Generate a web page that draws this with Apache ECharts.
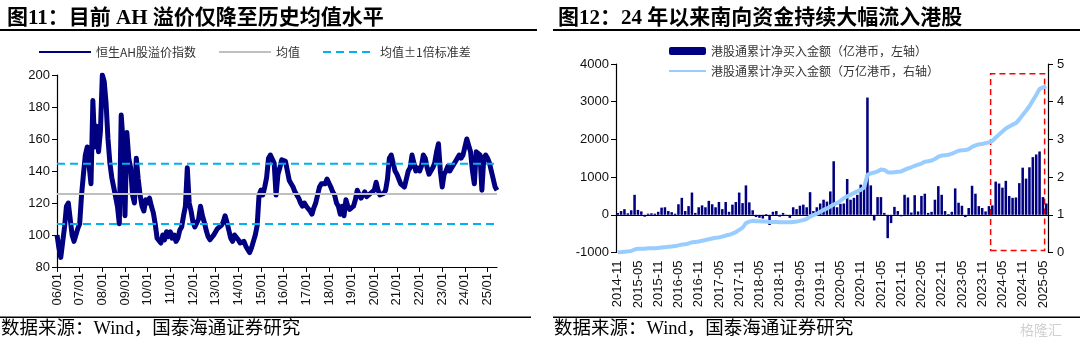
<!DOCTYPE html>
<html><head><meta charset="utf-8">
<script src="https://cdn.jsdelivr.net/npm/echarts@6/dist/echarts.min.js"></script>
<style>html,body{margin:0;padding:0;background:#fff}#c{width:1080px;height:345px}</style>
</head><body><div id="c"></div>
<script>
// ---------- Figure 11: AH premium index (monthly, 2006-01 .. 2025-06) ----------
const ahStart = [2006, 1];
const ahIndex = [
 100, 92, 86, 87, 105, 118, 120, 110, 100, 96, 100, 104,
 107, 125, 138, 150, 155, 156, 132, 184, 155, 168, 152, 165,
 200, 196, 182, 160, 145, 136, 130, 124, 118, 107, 175, 158,
 112, 164, 148, 142, 125, 120, 148, 135, 125, 118, 115, 122,
 120, 123, 118, 114, 107, 98, 97, 95, 100, 97, 102, 99,
 102, 98, 100, 96, 98, 103, 105, 112, 118, 142, 120, 115,
 108, 105, 104, 110, 118, 112, 108, 103, 99, 97, 96, 100,
 100, 104, 103, 106, 108, 112, 108, 103, 98, 96, 100, 99,
 97, 95, 94, 96, 93, 91, 89, 92, 96, 100, 106, 125,
 128, 125, 130, 136, 148, 150, 150, 145, 125, 138, 142, 147,
 147, 146, 140, 134, 132, 130, 127, 125, 123, 120, 118, 120,
 118, 118, 115, 113, 117, 120, 125, 130, 132, 133, 132, 135,
 136, 130, 127, 125, 120, 118, 113, 118, 112, 122, 118, 116,
 117, 118, 122, 128, 125, 123, 125, 127, 124, 125, 126, 126,
 128, 133, 128, 125, 124, 126, 128, 135, 148, 150, 145, 140,
 138, 135, 132, 133, 130, 135, 140, 142, 150, 145, 140, 142,
 140, 143, 150, 148, 142, 138, 140, 142, 145, 152, 157, 140,
 130, 138, 140, 143, 140, 142, 143, 146, 148, 150, 148, 150,
 155, 160, 156, 152, 140, 132, 152, 153, 150, 128, 148, 150,
 148, 145, 140, 135, 130, 128
];
const ahMean = 125.7;
const ahStd = 18.8;
const ahYTicks = [80, 200, 20];

// ---------- Figure 12: Southbound flows (monthly, 2014-11 .. 2025-06) ----------
const flowStart = [2014, 11];
const flowMonthly = [ // 亿港币
 50, 100, 150, 40, 120, 530, 130, 90, -50, 30, 40, 30,
 80, 190, 200, 100, 70, 30, 280, 450, 100, 230, 590, 50,
 200, 250, 200, 370, 280, 200, 340, 150, 340, 80, 270, 340,
 590, 310, 780, 330, 120, -60, -80, -100, 20, -270, 80, 100,
 -50, 50, -30, -80, 200, 150, 240, 270, 200, 600, 100, 200,
 300, 400, 350, 620, 1420, 200, 290, 300, 950, 400, 450, 530,
 800, 780, 3110, 780, -150, 470, 470, 50, -620, -220, 210, 100,
 -40, 530, 460, 60, 520, 90, 500, 560, 50, 80, 400, 760,
 530, 100, 20, 80, 700, 320, 240, -60, 180, 770, 560, 230,
 180, 90, 230, 250, 880, 830, 720, 900, 500, 450, 460, 840,
 1250, 960, 1260, 1530, 1600, 1680, 470, 300
];
const flowCumulative = [ // 万亿港币
 0.00, 0.01, 0.02, 0.03, 0.04, 0.08, 0.10, 0.10, 0.10, 0.11, 0.11, 0.11,
 0.12, 0.13, 0.14, 0.15, 0.16, 0.17, 0.19, 0.21, 0.22, 0.24, 0.27, 0.28,
 0.29, 0.31, 0.33, 0.35, 0.37, 0.39, 0.40, 0.42, 0.45, 0.47, 0.50, 0.54,
 0.60, 0.66, 0.78, 0.82, 0.84, 0.83, 0.83, 0.82, 0.82, 0.81, 0.81, 0.81,
 0.80, 0.80, 0.80, 0.80, 0.81, 0.82, 0.84, 0.86, 0.89, 0.95, 0.99, 1.03,
 1.08, 1.13, 1.17, 1.22, 1.27, 1.31, 1.37, 1.44, 1.49, 1.53, 1.58, 1.62,
 1.66, 1.72, 2.06, 2.10, 2.12, 2.15, 2.20, 2.19, 2.13, 2.12, 2.13, 2.14,
 2.15, 2.19, 2.23, 2.26, 2.30, 2.33, 2.36, 2.41, 2.42, 2.44, 2.48, 2.54,
 2.57, 2.58, 2.59, 2.62, 2.66, 2.70, 2.71, 2.72, 2.74, 2.80, 2.84, 2.87,
 2.88, 2.90, 2.92, 2.96, 3.05, 3.13, 3.21, 3.29, 3.34, 3.39, 3.43, 3.53,
 3.65, 3.76, 3.88, 4.03, 4.18, 4.34, 4.38, 4.41
];
const flowLeftTicks = [-1000, 4000, 1000];
const flowRightTicks = [0, 5, 1];
const highlightMonths = ['2023-12', '2025-06'];
const highlightRange = [-950, 3740];

const titles = ['图11：目前 AH 溢价仅降至历史均值水平', '图12：24 年以来南向资金持续大幅流入港股'];
const sourceText = '数据来源：Wind，国泰海通证券研究';
const ahNames = ['恒生AH股溢价指数', '均值', '均值±1倍标准差'];
const flowNames = ['港股通累计净买入金额（亿港币，左轴）', '港股通累计净买入金额（万亿港币，右轴）'];

function monthList(start, n) {
  const out = [];
  let y = start[0], m = start[1];
  for (let i = 0; i < n; i++) {
    out.push(y + '-' + (m < 10 ? '0' + m : m));
    m++; if (m > 12) { m = 1; y++; }
  }
  return out;
}
const ahMonths = monthList(ahStart, ahIndex.length);
const flowMonths = monthList(flowStart, flowMonthly.length);

const numFont = "'Liberation Sans', Arial, sans-serif";
const cjkFont = "'Noto Sans CJK SC', sans-serif";
const serifFont = "'Liberation Serif', 'Times New Roman', 'Noto Sans CJK SC', serif";
const axisColor = '#000';
const labelStyle = { color: '#111', fontSize: 13, fontFamily: numFont };
const plainNum = (v) => String(v);
const hideSymbol = { opacity: 0 };

const isJan = (i) => ahMonths[i].slice(5) === '01';

const chart = echarts.init(document.getElementById('c'), null, { renderer: 'canvas' });
chart.setOption({
  animation: false,
  backgroundColor: '#fff',
  title: [
    { text: titles[0], left: 2, top: 3, textStyle: { fontSize: 21, fontWeight: 'bold', fontFamily: serifFont, color: '#000' } },
    { text: titles[1], left: 553, top: 3, textStyle: { fontSize: 21, fontWeight: 'bold', fontFamily: serifFont, color: '#000' } }
  ],
  graphic: [
    { type: 'rect', shape: { x: 0, y: 29, width: 537, height: 2 }, style: { fill: '#000' } },
    { type: 'rect', shape: { x: 553, y: 29, width: 527, height: 2 }, style: { fill: '#000' } },
    { type: 'rect', shape: { x: 0, y: 316.5, width: 531, height: 1.5 }, style: { fill: '#000' } },
    { type: 'rect', shape: { x: 553, y: 316.5, width: 527, height: 1.5 }, style: { fill: '#000' } },
    { type: 'text', left: 1, top: 320, style: { text: sourceText, fontSize: 18.5, fontFamily: serifFont, fill: '#000' } },
    { type: 'text', left: 554, top: 320, style: { text: sourceText, fontSize: 18.5, fontFamily: serifFont, fill: '#000' } },
    { type: 'text', left: 1020, top: 323, style: { text: '格隆汇', fontSize: 14, fontFamily: cjkFont, fill: '#d0d0d0' } }
  ],
  legend: [
    {
      data: [
        { name: ahNames[0], itemStyle: hideSymbol },
        { name: ahNames[1], itemStyle: hideSymbol },
        { name: ahNames[2], itemStyle: hideSymbol }
      ],
      left: 33, top: 41, itemWidth: 52, itemHeight: 10, itemGap: 22,
      textStyle: { fontSize: 12, fontFamily: cjkFont, color: '#333' }
    },
    {
      data: [
        { name: flowNames[0] },
        { name: flowNames[1], itemStyle: hideSymbol }
      ],
      orient: 'vertical', left: 663, top: 40, itemWidth: 37, itemHeight: 8, itemGap: 8,
      textStyle: { fontSize: 12, fontFamily: cjkFont, color: '#333' }
    }
  ],
  grid: [
    { left: 57, top: 75, width: 440, height: 192 },
    { left: 616, top: 64, width: 432, height: 188.5 }
  ],
  xAxis: [
    {
      gridIndex: 0, type: 'category', data: ahMonths, boundaryGap: false,
      axisLine: { lineStyle: { color: axisColor, width: 1.2 } },
      axisTick: { interval: (i) => isJan(i), length: 5, lineStyle: { color: axisColor } },
      axisLabel: Object.assign({}, labelStyle, { interval: (i) => isJan(i), rotate: 90, margin: 6,
        formatter: (v) => v.slice(2, 4) + '/01' }),
      splitLine: { show: false }
    },
    {
      gridIndex: 1, type: 'category', data: flowMonths, position: 'bottom',
      axisLine: { show: false, onZero: false }, axisTick: { show: false },
      axisLabel: Object.assign({}, labelStyle, { interval: 5, rotate: 90, margin: 8 }),
      splitLine: { show: false }
    },
    {
      gridIndex: 1, type: 'category', data: flowMonths, position: 'bottom',
      axisLine: { onZero: true, onZeroAxisIndex: 1, lineStyle: { color: axisColor, width: 1.2 } },
      axisTick: { interval: 5, length: 4, lineStyle: { color: axisColor } },
      axisLabel: { show: false }, splitLine: { show: false }
    }
  ],
  yAxis: [
    {
      gridIndex: 0, type: 'value', min: ahYTicks[0], max: ahYTicks[1], interval: ahYTicks[2],
      axisLine: { show: true, lineStyle: { color: axisColor, width: 1.2 } },
      axisTick: { show: true, length: 5, lineStyle: { color: axisColor } },
      axisLabel: Object.assign({}, labelStyle, { margin: 7, formatter: plainNum }),
      splitLine: { show: false }
    },
    {
      gridIndex: 1, type: 'value', min: flowLeftTicks[0], max: flowLeftTicks[1], interval: flowLeftTicks[2],
      axisLine: { show: true, lineStyle: { color: axisColor, width: 1.2 } },
      axisTick: { show: true, length: 5, lineStyle: { color: axisColor } },
      axisLabel: Object.assign({}, labelStyle, { margin: 7, formatter: plainNum }),
      splitLine: { show: false }
    },
    {
      gridIndex: 1, type: 'value', position: 'right', min: flowRightTicks[0], max: flowRightTicks[1], interval: flowRightTicks[2],
      axisLine: { show: true, lineStyle: { color: axisColor, width: 1.2 } },
      axisTick: { show: true, length: 5, lineStyle: { color: axisColor } },
      axisLabel: Object.assign({}, labelStyle, { margin: 9, formatter: plainNum }),
      splitLine: { show: false }
    }
  ],
  series: [
    {
      name: ahNames[0], type: 'line', xAxisIndex: 0, yAxisIndex: 0, data: ahIndex,
      symbol: 'none', lineStyle: { color: '#000080', width: 5, join: 'round' }, itemStyle: { color: '#000080' }, z: 2
    },
    {
      name: ahNames[1], type: 'line', xAxisIndex: 0, yAxisIndex: 0, data: ahMonths.map(() => ahMean),
      symbol: 'none', lineStyle: { color: '#bfbfbf', width: 2 }, itemStyle: { color: '#bfbfbf' }, z: 3
    },
    {
      name: ahNames[2], type: 'line', xAxisIndex: 0, yAxisIndex: 0, data: ahMonths.map(() => ahMean + ahStd),
      symbol: 'none', lineStyle: { color: '#00b0f0', width: 2, type: [8, 5] }, itemStyle: { color: '#00b0f0' }, z: 3
    },
    {
      name: ahNames[2], type: 'line', xAxisIndex: 0, yAxisIndex: 0, data: ahMonths.map(() => ahMean - ahStd),
      symbol: 'none', lineStyle: { color: '#00b0f0', width: 2, type: [8, 5] }, itemStyle: { color: '#00b0f0' }, z: 3
    },
    {
      name: flowNames[0], type: 'bar', xAxisIndex: 1, yAxisIndex: 1, data: flowMonthly,
      itemStyle: { color: '#000080' }, barCategoryGap: '25%', z: 2,
      markArea: {
        silent: true,
        itemStyle: { color: 'rgba(0,0,0,0)', borderColor: '#ff0000', borderWidth: 1.5, borderType: [6, 4] },
        data: [[{ xAxis: highlightMonths[0], yAxis: highlightRange[0] }, { xAxis: highlightMonths[1], yAxis: highlightRange[1] }]]
      }
    },
    {
      name: flowNames[1], type: 'line', xAxisIndex: 1, yAxisIndex: 2, data: flowCumulative,
      symbol: 'none', lineStyle: { color: '#99ccff', width: 4 }, itemStyle: { color: '#99ccff' }, z: 4
    }
  ]
});
</script>
</body></html>
